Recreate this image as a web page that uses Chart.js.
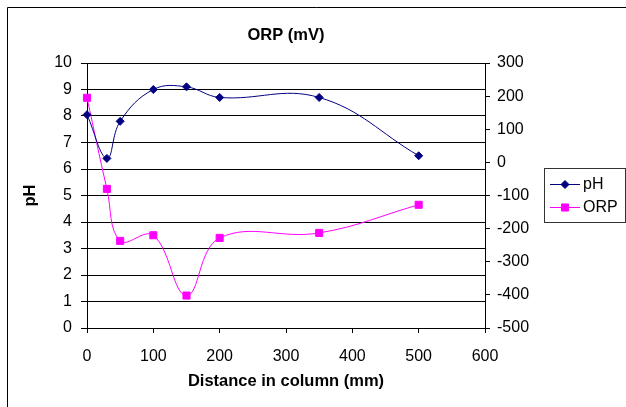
<!DOCTYPE html>
<html>
<head>
<meta charset="utf-8">
<script src="https://cdn.jsdelivr.net/npm/chart.js@4"></script>
<style>
  body { margin: 0; background: #fff; }
  #wrap { width: 626px; height: 407px; }
</style>
</head>
<body>
<div id="wrap"><canvas id="miGrafico" width="626" height="407"></canvas></div>
<script>
const distancia = [0, 30, 50, 100, 150, 200, 350, 500];
const valoresPH = [8.05, 6.4, 7.8, 9.0, 9.1, 8.7, 8.7, 6.5];
const valoresORP = [195, -80, -237, -220, -402, -228, -213, -128];

const fuente = 'Liberation Sans, Arial, sans-serif';

function puntos(ys) {
  return distancia.map((x, i) => ({ x: x, y: ys[i] }));
}

// marco y leyenda al estilo Excel
const decoracion = {
  id: 'decoracion',
  afterDraw(chart) {
    const ctx = chart.ctx;
    ctx.save();
    ctx.strokeStyle = '#000';
    ctx.lineWidth = 1;
    ctx.beginPath();
    ctx.moveTo(7.5, 407);
    ctx.lineTo(7.5, 7.5);
    ctx.lineTo(626, 7.5);
    ctx.stroke();

    ctx.strokeStyle = '#333';
    ctx.strokeRect(544.5, 168.5, 81, 54);
    const filas = [184, 207];
    chart.data.datasets.forEach((ds, i) => {
      const y = filas[i];
      ctx.strokeStyle = ds.borderColor;
      ctx.fillStyle = ds.backgroundColor;
      ctx.lineWidth = 1;
      ctx.beginPath();
      ctx.moveTo(550, y + 0.5);
      ctx.lineTo(580, y + 0.5);
      ctx.stroke();
      Chart.helpers.drawPoint(ctx, { pointStyle: ds.pointStyle, radius: ds.pointRadius, borderWidth: 1 }, 565, y + 0.5);
      ctx.fillStyle = '#000';
      ctx.font = '16px ' + fuente;
      ctx.textBaseline = 'middle';
      ctx.textAlign = 'left';
      ctx.fillText(ds.label, 583, y + 1);
    });
    ctx.restore();
  }
};

new Chart(document.getElementById('miGrafico').getContext('2d'), {
  type: 'scatter',
  data: {
    datasets: [{
      label: 'pH',
      data: puntos(valoresPH),
      yAxisID: 'y',
      showLine: true,
      borderColor: '#000080',
      backgroundColor: '#000080',
      borderWidth: 1,
      pointStyle: 'rectRot',
      pointRadius: 4,
      pointHoverRadius: 4,
      tension: 0.4,
      clip: false
    }, {
      label: 'ORP',
      data: puntos(valoresORP),
      yAxisID: 'y2',
      showLine: true,
      borderColor: '#FF00FF',
      backgroundColor: '#FF00FF',
      borderWidth: 1,
      pointStyle: 'rect',
      pointRadius: 5,
      pointHoverRadius: 5,
      tension: 0.4,
      clip: false
    }]
  },
  options: {
    responsive: false,
    animation: false,
    devicePixelRatio: 1,
    layout: { padding: 0 },
    scales: {
      x: {
        type: 'linear',
        position: 'bottom',
        min: 0,
        max: 600,
        afterFit: s => { s.height = 79; },
        ticks: { stepSize: 100, color: '#000', font: { family: fuente, size: 16 }, padding: 14, maxRotation: 0 },
        grid: { drawOnChartArea: false, color: '#000', tickLength: 5 },
        border: { color: '#000' },
        title: {
          display: true,
          text: 'Distance in column (mm)',
          color: '#000',
          font: { family: fuente, size: 16.5, weight: 'bold' },
          padding: { top: 0, bottom: 15.6 }
        }
      },
      y: {
        position: 'left',
        min: 0,
        max: 10,
        afterFit: s => { s.width = 87; },
        ticks: { stepSize: 1, color: '#000', font: { family: fuente, size: 16 }, padding: 9 },
        grid: { color: '#000', tickLength: 6 },
        border: { color: '#000' },
        title: {
          display: true,
          text: 'pH',
          color: '#000',
          font: { family: fuente, size: 16.5, weight: 'bold' },
          padding: { top: 20.6, bottom: 0 }
        }
      },
      y2: {
        position: 'right',
        min: -500,
        max: 300,
        afterFit: s => { s.width = 141; },
        ticks: { stepSize: 100, color: '#000', font: { family: fuente, size: 16 }, padding: 7 },
        grid: { drawOnChartArea: false, color: '#000', tickLength: 5 },
        border: { color: '#000' }
      }
    },
    plugins: {
      legend: { display: false },
      tooltip: { enabled: false },
      title: {
        display: true,
        text: 'ORP (mV)',
        color: '#000',
        fullSize: false,
        font: { family: fuente, size: 16.5, weight: 'bold' },
        padding: { top: 26, bottom: 17.2 }
      }
    }
  },
  plugins: [decoracion]
});
</script>
</body>
</html>
